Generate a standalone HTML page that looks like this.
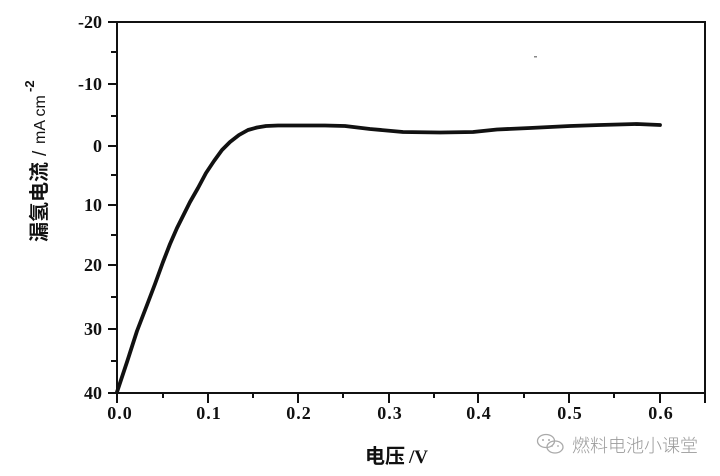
<!DOCTYPE html>
<html><head><meta charset="utf-8">
<style>
html,body{margin:0;padding:0;background:#fff;}
svg{display:block;}
.tl{font-family:"Liberation Serif","Noto Serif CJK SC",serif;font-weight:bold;font-size:18px;fill:#111;}
</style></head>
<body>
<svg width="720" height="476" viewBox="0 0 720 476" xmlns="http://www.w3.org/2000/svg">
<rect width="720" height="476" fill="#fff"/>
<!-- frame -->
<g stroke="#111" stroke-width="2" fill="none">
<line x1="117" y1="22" x2="705" y2="22"/>
<line x1="705" y1="21" x2="705" y2="394"/>
<line x1="117" y1="21" x2="117" y2="394"/>
<line x1="116" y1="393" x2="706" y2="393"/>
</g>
<!-- y ticks -->
<g stroke="#111" stroke-width="2">
<line x1="108" y1="22" x2="117" y2="22"/>
<line x1="108" y1="84" x2="117" y2="84"/>
<line x1="108" y1="146" x2="117" y2="146"/>
<line x1="108" y1="205" x2="117" y2="205"/>
<line x1="108" y1="265" x2="117" y2="265"/>
<line x1="108" y1="329" x2="117" y2="329"/>
<line x1="108" y1="393" x2="117" y2="393"/>
<line x1="111" y1="52" x2="117" y2="52"/>
<line x1="111" y1="116" x2="117" y2="116"/>
<line x1="111" y1="175" x2="117" y2="175"/>
<line x1="111" y1="235" x2="117" y2="235"/>
<line x1="111" y1="297" x2="117" y2="297"/>
<line x1="111" y1="361" x2="117" y2="361"/>
</g>
<!-- x ticks -->
<g stroke="#111" stroke-width="2">
<line x1="117" y1="393" x2="117" y2="403"/>
<line x1="208" y1="393" x2="208" y2="403"/>
<line x1="298" y1="393" x2="298" y2="403"/>
<line x1="389" y1="393" x2="389" y2="403"/>
<line x1="478" y1="393" x2="478" y2="403"/>
<line x1="569" y1="393" x2="569" y2="403"/>
<line x1="660" y1="393" x2="660" y2="403"/>
<line x1="163" y1="393" x2="163" y2="398"/>
<line x1="253" y1="393" x2="253" y2="398"/>
<line x1="343" y1="393" x2="343" y2="398"/>
<line x1="434" y1="393" x2="434" y2="398"/>
<line x1="524" y1="393" x2="524" y2="398"/>
<line x1="614" y1="393" x2="614" y2="398"/>
<line x1="705" y1="393" x2="705" y2="403"/>
</g>
<!-- y tick labels -->
<g class="tl" text-anchor="end">
<text x="102" y="28">-20</text>
<text x="102" y="90">-10</text>
<text x="102" y="152">0</text>
<text x="102" y="211">10</text>
<text x="102" y="271">20</text>
<text x="102" y="335">30</text>
<text x="102" y="399">40</text>
</g>
<!-- x tick labels -->
<g class="tl" text-anchor="middle" style="letter-spacing:1px">
<text x="120" y="419">0.0</text>
<text x="209" y="419">0.1</text>
<text x="299" y="419">0.2</text>
<text x="390" y="419">0.3</text>
<text x="479" y="419">0.4</text>
<text x="570" y="419">0.5</text>
<text x="661" y="419">0.6</text>
</g>
<!-- curve -->
<path d="M117,392 L127,362 L137,331 L147,305 L155,284 L163,262 L170,244 L177,228 L184,214 L190,202 L198,188 L206,173 L214,161 L222,150 L230,142 L239,135 L248,130 L257,127.5 L266,126 L278,125.5 L300,125.5 L325,125.5 L345,126 L370,129 L403,132 L440,132.5 L473,132 L497,129.5 L530,128 L570,126 L600,125 L637,124 L660,125"
 fill="none" stroke="#111" stroke-width="3.8" stroke-linejoin="round" stroke-linecap="round"/>
<!-- y axis label -->
<g transform="translate(46,242) rotate(-90)">
<text x="0" y="0" style="font-family:'Liberation Sans','Noto Sans CJK SC',sans-serif;font-weight:bold;font-size:20px" fill="#111">漏氢电流</text>
<text x="86" y="0" style="font-family:'Liberation Sans',sans-serif;font-size:19px" fill="#111">/</text>
<text x="98" y="-1" style="font-family:'Liberation Sans',sans-serif;font-size:16px" fill="#111">mA cm</text>
<text x="150" y="-12" style="font-family:'Liberation Sans',sans-serif;font-size:13px;font-weight:bold" fill="#111">-2</text>
</g>
<!-- x axis label -->
<text x="365" y="463" style="font-family:'Liberation Sans','Noto Sans CJK SC',sans-serif;font-weight:bold;font-size:20px" fill="#111">电压</text>
<text x="409" y="463" style="font-family:'Liberation Serif',serif;font-weight:bold;font-size:19px" fill="#111">/V</text>
<!-- watermark -->
<g fill="none" stroke="#aaa" stroke-width="1.3">
<ellipse cx="546" cy="441" rx="8.5" ry="6.5"/>
<ellipse cx="555" cy="447" rx="8" ry="6"/>
</g>
<g fill="#aaa">
<circle cx="543" cy="440" r="1"/><circle cx="549" cy="440" r="1"/>
<circle cx="552" cy="446" r="0.9"/><circle cx="558" cy="446" r="0.9"/>
</g>
<text x="572" y="452" style="font-family:'Noto Sans CJK SC','WenQuanYi Zen Hei',sans-serif;font-size:18px;font-weight:300" fill="#9a9a9a">燃料电池小课堂</text>
<!-- small speck -->
<rect x="534" y="56" width="3" height="1.5" fill="#888"/>
</svg>
</body></html>
